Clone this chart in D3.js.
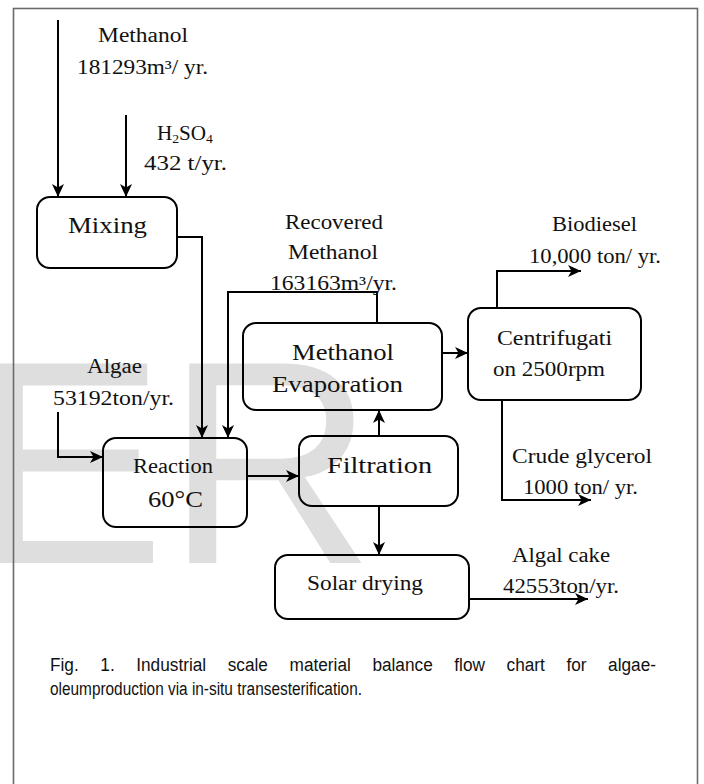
<!DOCTYPE html>
<html>
<head>
<meta charset="utf-8">
<script src="https://cdn.jsdelivr.net/npm/d3@7/dist/d3.min.js"></script>
<style>
  html, body { margin: 0; padding: 0; background: #fff; }
  svg { display: block; }
</style>
</head>
<body>
<svg id="chart" width="704" height="784"></svg>
<script>
// ---------------- data ----------------
const boxLabels = [
  ["Mixing"],
  ["Reaction", "60°C"],
  ["Filtration"],
  ["Methanol", "Evaporation"],
  ["Centrifugati", "on 2500rpm"],
  ["Solar drying"]
];
const streamNames = [["Methanol"], ["H2SO4"], ["Algae"], ["Recovered", "Methanol"], ["Biodiesel"], ["Crude glycerol"], ["Algal cake"]];
const streamValues = [181293, 432, 53192, 163163, 10000, 1000, 42553];
const streamGrouped = [false, false, false, false, true, false, false];
const streamUnits = ["m³/ yr.", " t/yr.", "ton/yr.", "m³/yr.", " ton/ yr.", " ton/ yr.", "ton/yr."];
const captionLines = [
  "Fig. 1. Industrial scale material balance flow chart for algae-",
  "oleumproduction via in-situ transesterification."
];

// ---------------- layout ----------------
const svg = d3.select("#chart");
const serif = "'Liberation Serif', 'Times New Roman', serif";

// watermark
svg.append("text")
  .attr("x", -28).attr("y", 563)
  .attr("font-family", "'Liberation Sans', Arial, sans-serif")
  .attr("font-size", 290)
  .attr("fill", "#dedede")
  .text("ER");

// frame
svg.append("rect")
  .attr("x", 13.5).attr("y", 8.5).attr("width", 684).attr("height", 800)
  .attr("fill", "none").attr("stroke", "#6b6b6b").attr("stroke-width", 1.6);

// arrow marker
svg.append("defs").append("marker")
  .attr("id", "arr").attr("markerUnits", "userSpaceOnUse")
  .attr("viewBox", "-1 -7 15 14").attr("markerWidth", 15).attr("markerHeight", 14)
  .attr("refX", 13).attr("refY", 0).attr("orient", "auto")
  .append("path").attr("d", "M0,-6 L13,0 L0,6 L3.5,0 Z").attr("fill", "#000");

// boxes: geometry + text placements
const boxGeom = [
  { x: 37, y: 197, w: 140, h: 71, lines: [{ cx: 107.5, y: 233, w: 79, fs: 23 }] },
  { x: 103, y: 438, w: 144, h: 89, lines: [{ cx: 173, y: 473, w: 80, fs: 20 }, { cx: 175.5, y: 507, w: 55, fs: 23 }] },
  { x: 299, y: 436, w: 159, h: 70, lines: [{ cx: 379.5, y: 473, w: 105, fs: 23 }] },
  { x: 243, y: 323, w: 199, h: 87, lines: [{ cx: 343, y: 360, w: 102, fs: 23 }, { cx: 337.5, y: 392, w: 131, fs: 23 }] },
  { x: 468, y: 308, w: 173, h: 92, lines: [{ cx: 554.5, y: 345, w: 115, fs: 20 }, { cx: 549, y: 376, w: 112, fs: 20 }] },
  { x: 275, y: 555, w: 194, h: 64, lines: [{ cx: 365, y: 590, w: 116, fs: 20 }] }
];

function fitText(g, str, cx, y, w, fs) {
  const t = g.append("text")
    .attr("x", cx).attr("y", y)
    .attr("text-anchor", "middle")
    .attr("font-family", serif)
    .attr("font-size", fs)
    .attr("fill", "#111")
    .attr("textLength", w).attr("lengthAdjust", "spacingAndGlyphs");
  if (str === "H2SO4") {
    t.append("tspan").text("H");
    t.append("tspan").attr("font-size", fs * 0.65).attr("dy", 3).text("2");
    t.append("tspan").attr("dy", -3).text("SO");
    t.append("tspan").attr("font-size", fs * 0.65).attr("dy", 3).text("4");
  } else {
    t.text(str);
  }
  return t;
}

const boxG = svg.append("g");
boxLabels.forEach((lines, i) => {
  const b = boxGeom[i];
  boxG.append("rect")
    .attr("x", b.x).attr("y", b.y).attr("width", b.w).attr("height", b.h)
    .attr("rx", 13).attr("ry", 13)
    .attr("fill", "none").attr("stroke", "#000").attr("stroke-width", 2);
  lines.forEach((s, j) => {
    const L = b.lines[j];
    fitText(boxG, s, L.cx, L.y, L.w, L.fs);
  });
});

// connectors (polylines in pixel space)
const connectors = [
  { pts: [[58, 20], [58, 197]] },                          // methanol -> mixing
  { pts: [[126, 115], [126, 197]] },                       // H2SO4 -> mixing
  { pts: [[177, 237], [202, 237], [202, 438]] },           // mixing -> reaction
  { pts: [[377, 323], [377, 292], [228, 292], [228, 438]] }, // recovered methanol
  { pts: [[58, 412], [58, 457], [103, 457]] },             // algae -> reaction
  { pts: [[247, 476], [299, 476]] },                       // reaction -> filtration
  { pts: [[379, 436], [379, 410]] },                       // filtration -> evaporation
  { pts: [[442, 353], [468, 353]] },                       // evaporation -> centrifugation
  { pts: [[497, 308], [497, 271], [581, 271]] },           // biodiesel
  { pts: [[502, 400], [502, 500], [591, 500]] },           // glycerol
  { pts: [[379, 506], [379, 555]] },                       // filtration -> solar drying
  { pts: [[469, 599], [588, 599]] }                        // algal cake
];
const line = d3.line();
svg.append("g").selectAll("path").data(connectors).join("path")
  .attr("d", d => line(d.pts))
  .attr("fill", "none").attr("stroke", "#000").attr("stroke-width", 2)
  .attr("stroke-linejoin", "miter")
  .attr("marker-end", "url(#arr)");

// stream labels
const streamPlace = [
  [{ cx: 143, y: 42, w: 90 }, { cx: 142.5, y: 74, w: 131 }],
  [{ cx: 185, y: 140, w: 56 }, { cx: 185.5, y: 170, w: 83 }],
  [{ cx: 114.5, y: 373, w: 55 }, { cx: 113.5, y: 405, w: 121 }],
  [{ cx: 334, y: 229, w: 98 }, { cx: 333, y: 259, w: 90 }, { cx: 333.5, y: 290, w: 127 }],
  [{ cx: 594.5, y: 231, w: 85 }, { cx: 595, y: 263, w: 132 }],
  [{ cx: 582, y: 463, w: 140 }, { cx: 580.5, y: 494, w: 115 }],
  [{ cx: 561, y: 562, w: 98 }, { cx: 561, y: 593, w: 116 }]
];
const labG = svg.append("g");
streamNames.forEach((names, i) => {
  const v = streamGrouped[i] ? d3.format(",")(streamValues[i]) : String(streamValues[i]);
  const lines = names.concat([v + streamUnits[i]]);
  lines.forEach((s, j) => {
    const p = streamPlace[i][j];
    fitText(labG, s, p.cx, p.y, p.w, 20);
  });
});

// caption
const capG = svg.append("g")
  .attr("font-family", "'Liberation Sans', Arial, sans-serif")
  .attr("font-size", 18).attr("fill", "#111");
const capLeft = 50, capRight = 656, line2W = 312;
const probe = capG.append("text").text(captionLines[1]);
const k = line2W / probe.node().getComputedTextLength();
probe.remove();
capG.append("text").attr("x", capLeft).attr("y", 695)
  .attr("textLength", line2W).attr("lengthAdjust", "spacingAndGlyphs")
  .text(captionLines[1]);
// justified first line
const words = captionLines[0].split(" ");
const widths = words.map(w => {
  const t = capG.append("text").text(w);
  const wd = t.node().getComputedTextLength() * k * 1.12;
  t.remove();
  return wd;
});
const gap = (capRight - capLeft - d3.sum(widths)) / (words.length - 1);
let xCur = capLeft;
words.forEach((w, i) => {
  capG.append("text").attr("x", xCur).attr("y", 671)
    .attr("textLength", widths[i]).attr("lengthAdjust", "spacingAndGlyphs")
    .text(w);
  xCur += widths[i] + gap;
});
</script>
</body>
</html>
